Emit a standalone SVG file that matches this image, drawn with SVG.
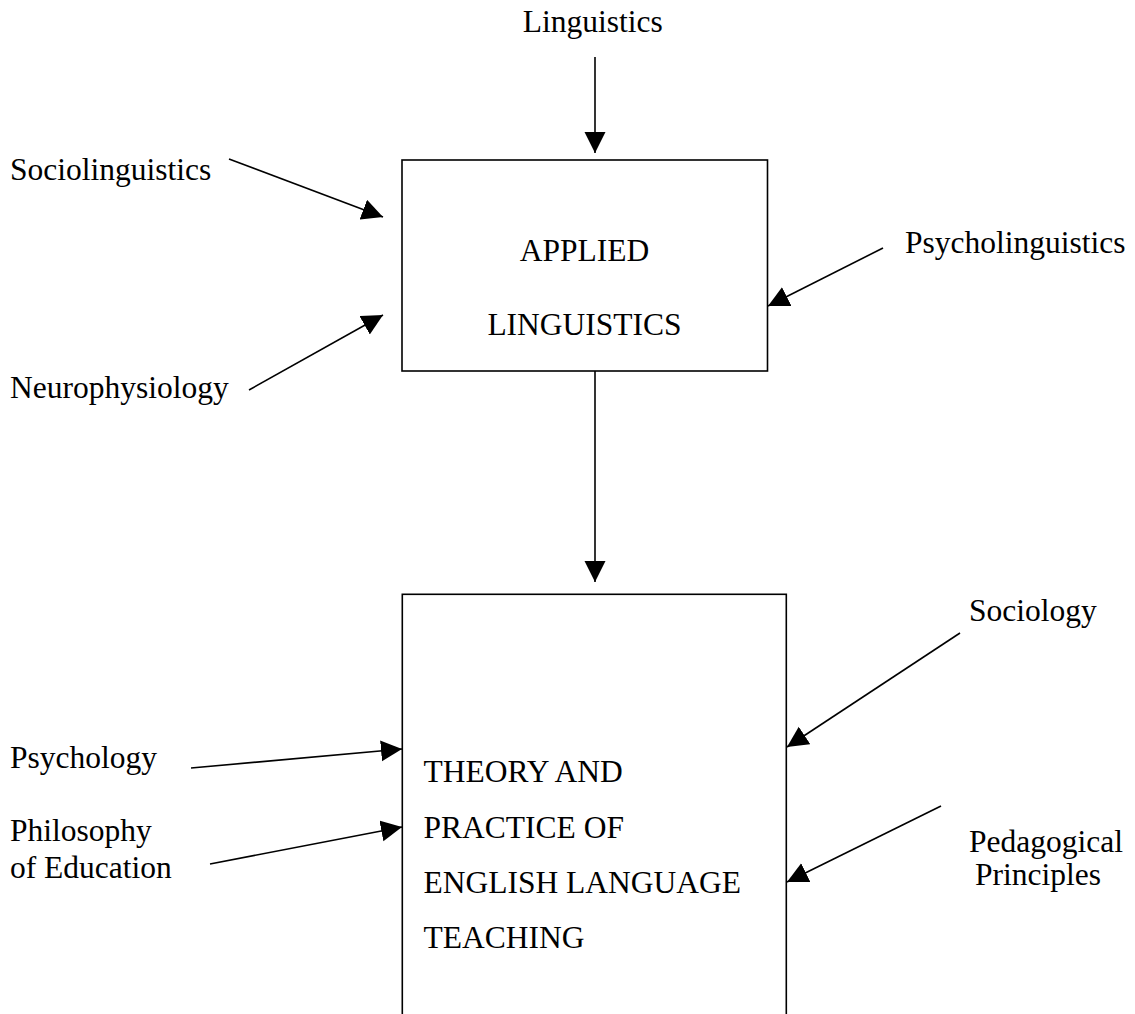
<svg xmlns="http://www.w3.org/2000/svg" width="1135" height="1014" viewBox="0 0 1135 1014">
<style>
.t{font-family:"Liberation Serif","Times New Roman",serif;font-size:31.5px;fill:#000}
.box{fill:#fff;stroke:#000;stroke-width:1.6}
.c{stroke:#000;stroke-width:1.6;fill:none;marker-end:url(#ah)}
</style>
<defs>
<marker id="ah" markerUnits="userSpaceOnUse" markerWidth="22" markerHeight="22" refX="21" refY="10.5" orient="auto" viewBox="0 0 22 22">
<path d="M0,0 L21,10.5 L0,21 Z" fill="#000"/>
</marker>
</defs>
<rect width="1135" height="1014" fill="#fff"/>
<g id="connectors">
<line class="c" x1="595" y1="57" x2="595" y2="153"/>
<line class="c" x1="229" y1="159" x2="383" y2="217"/>
<line class="c" x1="249" y1="390" x2="383" y2="315"/>
<line class="c" x1="883" y1="248" x2="768" y2="306"/>
<line class="c" x1="595" y1="371" x2="595" y2="582"/>
<line class="c" x1="191" y1="768" x2="402" y2="749"/>
<line class="c" x1="210" y1="864" x2="402" y2="827"/>
<line class="c" x1="960" y1="633" x2="787" y2="747"/>
<line class="c" x1="941" y1="806" x2="787" y2="882"/>
</g>
<g id="applied-linguistics">
<rect class="box" x="402" y="160" width="365.5" height="211"/>
<text class="t" x="584.5" y="260.5" text-anchor="middle">APPLIED</text>
<text class="t" x="584.5" y="335" text-anchor="middle">LINGUISTICS</text>
</g>
<g id="theory-practice">
<rect class="box" x="402.3" y="594.3" width="384" height="440"/>
<text class="t" x="423.5" y="781.7">THEORY AND</text>
<text class="t" x="423.5" y="837.7">PRACTICE OF</text>
<text class="t" x="423.5" y="892.7">ENGLISH LANGUAGE</text>
<text class="t" x="423.5" y="947.7">TEACHING</text>
</g>
<g id="linguistics"><text class="t" x="522.7" y="31.7">Linguistics</text></g>
<g id="sociolinguistics"><text class="t" x="10" y="180">Sociolinguistics</text></g>
<g id="neurophysiology"><text class="t" x="10" y="398">Neurophysiology</text></g>
<g id="psycholinguistics"><text class="t" x="905" y="253.3">Psycholinguistics</text></g>
<g id="psychology"><text class="t" x="10" y="768.3">Psychology</text></g>
<g id="philosophy"><text class="t" x="10" y="840.7">Philosophy</text><text class="t" x="10" y="878.3">of Education</text></g>
<g id="sociology"><text class="t" x="969" y="621">Sociology</text></g>
<g id="pedagogical"><text class="t" x="969" y="851.7">Pedagogical</text><text class="t" x="975" y="885">Principles</text></g>
</svg>
